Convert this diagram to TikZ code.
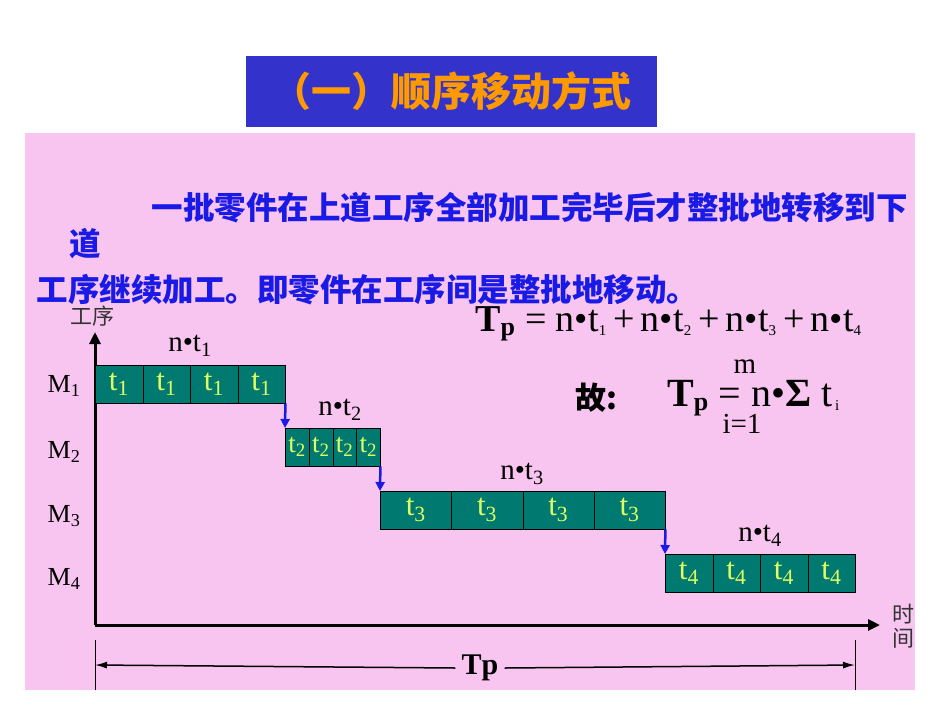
\documentclass[tikz,border=0pt]{standalone}
\usepackage{fontspec}
\setmainfont{Liberation Serif}
\newfontfamily\cjk{Noto Sans CJK SC}
\usetikzlibrary{arrows.meta}
\definecolor{pinkbg}{HTML}{F8C4F0}
\definecolor{titlebg}{HTML}{3333CC}
\definecolor{cellc}{HTML}{007A70}
\definecolor{cellt}{HTML}{E0FF60}
\definecolor{blu}{HTML}{1A1AE6}
\begin{document}
\begin{tikzpicture}[x=1pt,y=-1pt,
 cell/.style={draw=black,fill=cellc,minimum height=38pt,inner sep=0pt,text=cellt,font=\fontsize{31}{31}\selectfont,anchor=north west},
 garrow/.style={-{Triangle[length=9pt,width=9pt]},blu,line width=2.5pt},
 lab/.style={font=\fontsize{29}{29}\selectfont}]
\useasboundingbox (0,0) rectangle (950,713);
\fill[white] (0,0) rectangle (950,713);
\fill[pinkbg] (25,133) rectangle (915,690);
\node[fill=titlebg,draw=white,minimum width=412pt,minimum height=72pt,text={rgb,255:red,255;green,153;blue,0},font=\cjk\bfseries\fontsize{40}{40}\selectfont] (title) at (451,91) {（一）顺序移动方式};
\node[anchor=west,text=blu,font=\cjk\bfseries\fontsize{31.5}{32}\selectfont] (p1) at (148,208) {一批零件在上道工序全部加工完毕后才整批地转移到下};
\node[anchor=west,text=blu,font=\cjk\bfseries\fontsize{31.5}{32}\selectfont] (p2) at (66,244) {道};
\node[anchor=west,text=blu,font=\cjk\bfseries\fontsize{31.5}{32}\selectfont] (p3) at (33,290) {工序继续加工。即零件在工序间是整批地移动。};
% axes
\coordinate (o) at (95,625);
\coordinate (ytop) at (95,332);
\coordinate (xend) at (880,625);
\draw[line width=3pt,-{Triangle[length=12pt,width=11pt]}] (o) -- (ytop);
\draw[line width=3pt,-{Triangle[length=12pt,width=11pt]}] (o) -- (xend);
\node[font=\cjk\fontsize{22}{22}\selectfont,text=black!80] (yl) at (92,316) {工序};
\node[font=\cjk\fontsize{22}{24}\selectfont,text=black!80,align=center] (xl) at (903,626) {时\\间};
\foreach \i/\y in {1/386,2/452,3/516,4/579}
  \node[font=\fontsize{26}{26}\selectfont] (M\i) at (64,\y) {M\textsubscript{\i}};
% rows
\foreach \k in {0,1,2,3}{
 \node[cell,minimum width=47.5pt] (a\k) at ({95+47.5*\k},365) {t\textsubscript{1}};
 \node[cell,minimum width=23.75pt,font=\fontsize{27}{27}\selectfont] (b\k) at ({285+23.75*\k},428) {t\textsubscript{2}};
 \node[cell,minimum width=71.25pt] (c\k) at ({380+71.25*\k},491) {t\textsubscript{3}};
 \node[cell,minimum width=47.5pt] (d\k) at ({665+47.5*\k},554) {t\textsubscript{4}};
}
\draw[garrow] (a3.south east) -- (b0.north west);
\draw[garrow] (b3.south east) -- (c0.north west);
\draw[garrow] (c3.south east) -- (d0.north west);
\node[lab] (n1) at (190,346) {n•t\textsubscript{1}};
\node[lab] (n2) at (340,410) {n•t\textsubscript{2}};
\node[lab] (n3) at (522,474) {n•t\textsubscript{3}};
\node[lab] (n4) at (760,536) {n•t\textsubscript{4}};
% formulas
\node[anchor=west,font=\fontsize{38}{38}\selectfont,inner sep=0pt] (f1) at (475,324) {\textbf{T\textsubscript{\fontsize{26}{26}\selectfont p}} = n•t\textsubscript{\fontsize{15}{15}\selectfont 1}\,+\,n•t\textsubscript{\fontsize{15}{15}\selectfont 2}\,+\,n•t\textsubscript{\fontsize{15}{15}\selectfont 3}\,+\,n•t\textsubscript{\fontsize{15}{15}\selectfont 4}};
\node[font=\cjk\bfseries\fontsize{31}{31}\selectfont] (gu) at (596,398) {故:};
\node[anchor=west,font=\fontsize{40}{40}\selectfont,inner sep=0pt] (f2) at (667,398) {\textbf{T\textsubscript{\fontsize{26}{26}\selectfont p}} = n•\textbf{Σ} t\textsubscript{\fontsize{15}{15}\selectfont \,i}};
\node[font=\fontsize{29}{29}\selectfont] (mm) at (745,367) {m};
\node[font=\fontsize{29}{29}\selectfont] (ii) at (742,424) {i=1};
% Tp dimension
\coordinate (l1) at (95,640); \coordinate (l2) at (95,690);
\coordinate (r1) at (855,640); \coordinate (r2) at (855,690);
\draw[line width=1pt] (l1) -- (l2);
\draw[line width=1pt] (r1) -- (r2);
\node[font=\bfseries\fontsize{30}{30}\selectfont,fill=pinkbg,inner sep=6pt] (tp) at (480,668) {Tp};
\draw[line width=1.5pt,-{Latex[length=12pt,width=7pt]}] (tp.west) -- (95,665);
\draw[line width=1.5pt,-{Latex[length=12pt,width=7pt]}] (tp.east) -- (855,665);
\end{tikzpicture}
\end{document}
